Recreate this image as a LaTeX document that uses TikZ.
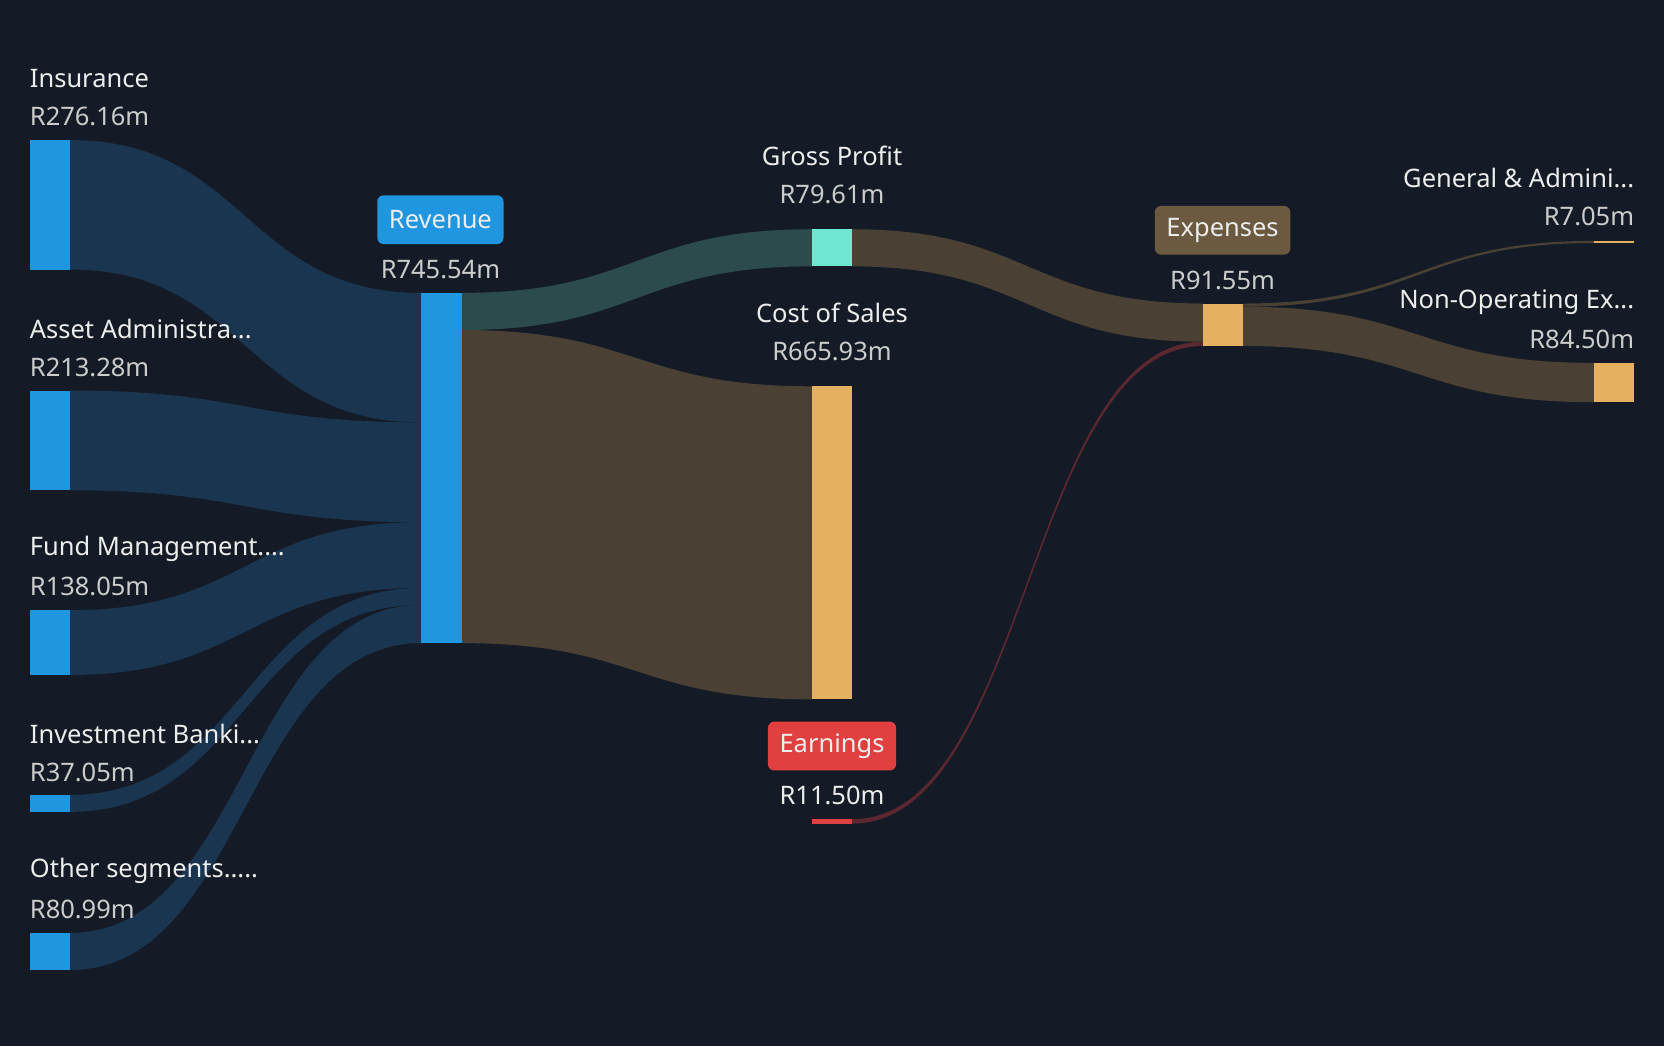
\documentclass[tikz,border=0pt]{standalone}
\usepackage{fontspec}
\setmainfont{Noto Sans}
\definecolor{bg}{HTML}{151B26}
\definecolor{lflow}{HTML}{1A3550}
\definecolor{blue}{HTML}{2196E0}
\definecolor{tflow}{HTML}{2C4B4D}
\definecolor{bflow}{HTML}{4A4033}
\definecolor{orng}{HTML}{E5B060}
\definecolor{teal}{HTML}{6EE6D0}
\definecolor{expb}{HTML}{6B5A40}
\definecolor{red}{HTML}{E04040}
\definecolor{txt}{HTML}{EDEDED}
\definecolor{val}{HTML}{CCCCCC}
\newcommand{\band}[7]{%
 \pgfmathsetmacro{\mx}{(#1+#4)/2}%
 \fill[#7] (#1,#2) .. controls (\mx,#2) and (\mx,#5) .. (#4,#5) -- (#4,#6) .. controls (\mx,#6) and (\mx,#3) .. (#1,#3) -- cycle;}
\begin{document}
\begin{tikzpicture}[x=1pt,y=-1pt,
 lab/.style={text=txt,font=\fontsize{24}{28}\selectfont,inner sep=0pt},
 vl/.style={text=val,font=\fontsize{24}{28}\selectfont,inner sep=0pt},
 tag/.style={font=\fontsize{24}{28}\selectfont,text=txt,rounded corners=6pt,inner xsep=11pt,minimum height=46pt}]
\fill[bg] (0,0) rectangle (1568,986);
\useasboundingbox (0,0) rectangle (1568,986);
% left flows
\band{66}{132}{254}{397}{276}{398}{lflow}
\band{66}{368}{462}{397}{398}{492}{lflow}
\band{66}{575}{636}{397}{492}{554}{lflow}
\band{66}{749}{765}{397}{554}{570}{lflow}
\band{66}{879}{914}{397}{570}{606}{lflow}
% revenue out
\band{435}{276}{311}{765}{216}{251}{tflow}
\band{435}{311}{606}{765}{364}{659}{bflow}
% to expenses
\band{803}{216}{251}{1134}{286}{322}{bflow}
\band{803}{772}{776}{1134}{322}{326}{red!35!bg}
\band{1171}{286}{289}{1502}{227}{229}{bflow}
\band{1171}{289}{326}{1502}{342}{379}{bflow}
% bars
\fill[blue] (28,132) rectangle (66,254);
\fill[blue] (28,368) rectangle (66,462);
\fill[blue] (28,575) rectangle (66,636);
\fill[blue] (28,749) rectangle (66,765);
\fill[blue] (28,879) rectangle (66,914);
\fill[blue] (397,276) rectangle (435,606);
\fill[teal] (765,216) rectangle (803,251);
\fill[orng] (765,364) rectangle (803,659);
\fill[red] (765,772) rectangle (803,776);
\fill[orng] (1134,286) rectangle (1171,326);
\fill[orng] (1502,227) rectangle (1540,229);
\fill[orng] (1502,342) rectangle (1540,379);
% left labels
\node[lab,anchor=west] (l1) at (28,74) {Insurance};
\node[vl,anchor=west] (v1) at (28,110) {R276.16m};
\node[lab,anchor=west] (l2) at (28,310) {Asset Administra...};
\node[vl,anchor=west] (v2) at (28,346) {R213.28m};
\node[lab,anchor=west] (l3) at (28,517) {Fund Management....};
\node[vl,anchor=west] (v3) at (28,553) {R138.05m};
\node[lab,anchor=west] (l4) at (28,692) {Investment Banki...};
\node[vl,anchor=west] (v4) at (28,728) {R37.05m};
\node[lab,anchor=west] (l5) at (28,821) {Other segments.....};
\node[vl,anchor=west] (v5) at (28,857) {R80.99m};
% middle
\node[tag,fill=blue] (rev) at (415,207) {Revenue};
\node[vl] (revv) at (415,254) {R745.54m};
\node[lab] (gp) at (784,147) {Gross Profit};
\node[vl] (gpv) at (784,183) {R79.61m};
\node[lab] (cs) at (784,295) {Cost of Sales};
\node[vl] (csv) at (784,331) {R665.93m};
\node[tag,fill=red] (earn) at (784,703) {Earnings};
\node[lab] (earnv) at (784,750) {R11.50m};
\node[tag,fill=expb] (exp) at (1152,217) {Expenses};
\node[vl] (expv) at (1152,264) {R91.55m};
\node[lab,anchor=east] (ga) at (1540,168) {General \& Admini...};
\node[vl,anchor=east] (gav) at (1540,204) {R7.05m};
\node[lab,anchor=east] (no) at (1540,285) {Non-Operating Ex...};
\node[vl,anchor=east] (nov) at (1540,320) {R84.50m};
\end{tikzpicture}
\end{document}
